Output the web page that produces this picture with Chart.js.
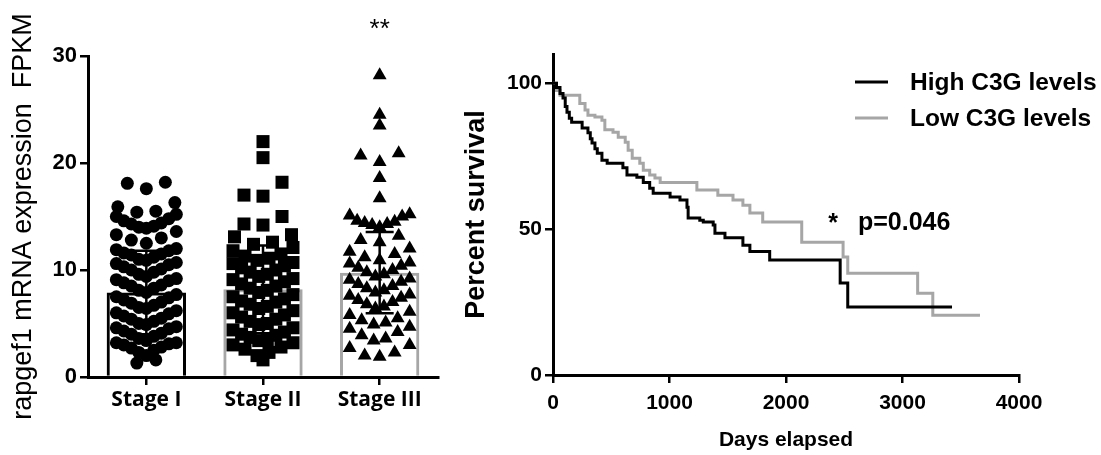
<!DOCTYPE html>
<html>
<head>
<meta charset="utf-8">
<script src="https://cdn.jsdelivr.net/npm/chart.js@4.4.1/dist/chart.umd.min.js"></script>
<style>
  html, body { margin: 0; padding: 0; background: #fff; }
  #wrap { position: relative; width: 1101px; height: 455px; }
  #stageChart { position: absolute; left: 0; top: 0; }
  #survivalChart { position: absolute; left: 450px; top: 0; }
</style>
</head>
<body>
<div id="wrap">
  <canvas id="stageChart" width="450" height="455"></canvas>
  <canvas id="survivalChart" width="651" height="455"></canvas>
</div>
<script>
// rapgef1 expression (FPKM) per tumour stage
const stages = ['Stage I', 'Stage II', 'Stage III'];
const stageI = [
  1.3, 1.6,
  2.0, 2.3, 2.5, 2.7, 2.8, 3.0, 3.1, 3.2, 3.2,
  3.4, 3.6, 3.8, 4.0, 4.1, 4.3, 4.5, 4.6, 4.7,
  4.9, 5.0, 5.2, 5.4, 5.5, 5.7, 5.9, 6.0, 6.2,
  6.4, 6.5, 6.7, 6.9, 7.0, 7.2, 7.4, 7.5, 7.7,
  7.9, 8.1, 8.3, 8.5, 8.6, 8.8, 9.0, 9.1, 9.2,
  9.4, 9.6, 9.8, 10.0, 10.1, 10.3, 10.5, 10.6, 10.7,
  10.9, 11.0, 11.2, 11.4, 11.5, 11.6, 11.8, 11.9, 12.0,
  12.5, 12.8, 13.0, 13.3, 13.6,
  13.9, 14.0, 14.1, 14.3, 14.4, 14.6, 14.8, 15.0, 15.2,
  15.4, 15.5, 15.9, 16.3,
  17.6, 18.1, 18.2
];
const stageII = [
  1.6,
  2.0, 2.3, 2.6, 2.8, 3.0, 3.2,
  3.4, 3.5, 3.7, 3.9, 4.0, 4.2, 4.4, 4.6,
  4.9, 5.0, 5.2, 5.4, 5.6, 5.8, 6.0, 6.2,
  6.4, 6.6, 6.8, 7.0, 7.1, 7.3, 7.5, 7.7,
  7.9, 8.1, 8.3, 8.5, 8.7, 8.9, 9.1, 9.2,
  9.4, 9.6, 9.8, 10.0, 10.2, 10.4, 10.6, 10.7,
  10.9, 11.1, 11.3, 11.5, 11.8, 12.1,
  12.4, 12.6, 13.1, 13.3,
  14.2, 14.3, 15.0,
  16.9, 17.0, 18.2,
  20.5, 22.0
];
const stageIII = [
  1.9, 2.0, 2.3, 2.7, 3.0,
  3.4, 3.6, 3.9, 4.2, 4.5, 4.7,
  4.9, 5.1, 5.3, 5.5, 5.8, 6.1,
  6.4, 6.6, 6.8, 7.0, 7.2, 7.4, 7.6, 7.7,
  7.9, 8.1, 8.3, 8.5, 8.7, 8.9, 9.1, 9.2,
  9.4, 9.6, 9.8, 10.0, 10.2, 10.4, 10.6, 10.7,
  10.9, 11.2, 11.5, 11.7, 12.0,
  12.6, 12.8, 13.2,
  14.0, 14.2, 14.3, 14.4, 14.5, 14.6, 15.0, 15.1, 15.2,
  16.7, 18.6,
  20.1, 20.7, 20.9,
  23.5, 24.5, 28.2
];
const stageMeans = [7.9, 8.2, 9.75];
const stageSD = [3.9, 4.1, 3.8];

// Kaplan-Meier survival (%) against days elapsed
const highDays = [0, 30, 60, 86, 105, 120, 140, 160, 250, 300, 320, 335, 360, 380, 420, 465, 600, 635, 720, 775, 830, 860, 1005, 1090, 1150, 1160, 1260, 1290, 1375, 1390, 1476, 1630, 1690, 1860, 2465, 2530, 3425];
const highSurvival = [100, 98.5, 96.5, 94.9, 92, 90, 88, 86.6, 84.6, 83, 81, 79.5, 77.5, 76, 73.6, 72.6, 71, 68.5, 67.8, 66, 64, 62.3, 61, 60, 57.5, 53.8, 53, 52.4, 51.4, 48.6, 47, 44.5, 42.3, 39.4, 31.5, 23.3, 23.3];
const lowDays = [0, 30, 60, 230, 275, 300, 360, 420, 445, 515, 560, 620, 645, 680, 745, 775, 830, 875, 920, 1235, 1415, 1545, 1630, 1690, 1800, 2135, 2490, 2530, 3130, 3260, 3665];
const lowSurvival = [100, 97.5, 95.9, 93, 90.8, 89, 88.4, 87.3, 84, 83.2, 81.5, 79.8, 77, 74.3, 72.6, 70.2, 68.5, 67.5, 66, 63.4, 61.6, 60, 58.2, 55.5, 52.4, 45.5, 40.4, 34.9, 28, 20.5, 20.5];

const black = '#000';
const grey = '#a6a6a6';
const arial = "'Liberation Sans', Arial, sans-serif";

Chart.defaults.font.family = arial;
Chart.defaults.color = black;
Chart.defaults.animation = false;

// column scatter: points grouped into value bins, lowest values in the middle of each row
const BIN_START = 0.3;
const BIN_SIZE = 1.5;
const SPREAD = 0.163;   // gap between neighbours in a sparse row (category units)
const HALF_ROW = 0.257; // widest a row may go either side of centre

function columnScatter(values, center) {
  const bins = {};
  values.forEach(v => {
    const k = Math.floor((v - BIN_START) / BIN_SIZE + 1e-9);
    (bins[k] = bins[k] || []).push(v);
  });
  const points = [];
  Object.values(bins).forEach(row => {
    row.sort((a, b) => a - b);
    const n = row.length;
    const step = n > 1 ? Math.min(SPREAD, 2 * HALF_ROW / (n - 1)) : 0;
    const slots = [];
    for (let k = 0; k < n; k++) slots.push((k - (n - 1) / 2) * step);
    slots.sort((a, b) => Math.abs(a) - Math.abs(b) || a - b);
    row.forEach((v, i) => points.push({ x: center + slots[i], y: v }));
  });
  return points;
}

const axisLine = { display: true, color: black, width: 3 };
const tickMarks = { drawOnChartArea: false, drawTicks: true, tickLength: 8, color: black, lineWidth: 2.5, offset: false };

// mean ± SD whiskers, bold value labels on the y axis and the significance mark
const errorBars = {
  id: 'errorBars',
  afterDatasetsDraw(chart) {
    const { ctx, scales: { x, y } } = chart;
    ctx.save();
    ctx.strokeStyle = black;
    ctx.lineWidth = 2.5;
    stageMeans.forEach((m, i) => {
      const cx = x.getPixelForValue(i);
      const top = y.getPixelForValue(m + stageSD[i]);
      const bottom = y.getPixelForValue(m - stageSD[i]);
      ctx.beginPath();
      ctx.moveTo(cx, top);
      ctx.lineTo(cx, bottom);
      ctx.moveTo(cx - 14, top);
      ctx.lineTo(cx + 14, top);
      ctx.moveTo(cx - 14, bottom);
      ctx.lineTo(cx + 14, bottom);
      ctx.stroke();
    });
    ctx.fillStyle = black;
    ctx.font = 'bold 22px ' + arial;
    ctx.textAlign = 'right';
    ctx.textBaseline = 'middle';
    y.ticks.forEach(t => {
      ctx.fillText(String(t.value), y.right - 11, y.getPixelForValue(t.value));
    });
    ctx.font = '26px ' + arial;
    ctx.textAlign = 'center';
    ctx.textBaseline = 'alphabetic';
    ctx.fillText('**', x.getPixelForValue(2), 37);
    ctx.restore();
  }
};

const pointDefaults = { type: 'scatter', xAxisID: 'xs', backgroundColor: black, borderColor: black, borderWidth: 0, clip: false };

new Chart(document.getElementById('stageChart'), {
  type: 'bar',
  data: {
    labels: stages,
    datasets: [
      { ...pointDefaults, data: columnScatter(stageI, 0), pointStyle: 'circle', pointRadius: 6.5 },
      { ...pointDefaults, data: columnScatter(stageII, 1), pointStyle: 'rect', pointRadius: 9.2 },
      { ...pointDefaults, data: columnScatter(stageIII, 2), pointStyle: 'triangle', pointRadius: 8 },
      {
        type: 'bar',
        data: stageMeans,
        xAxisID: 'x',
        grouped: false,
        backgroundColor: 'rgba(255,255,255,0)',
        borderColor: [black, grey, grey],
        borderWidth: 3,
        barPercentage: 0.68,
        categoryPercentage: 1,
      },
    ],
  },
  options: {
    responsive: false,
    devicePixelRatio: 1,
    layout: { padding: { top: 56, right: 12, left: 0, bottom: 0 } },
    plugins: { legend: { display: false }, tooltip: { enabled: false } },
    scales: {
      x: {
        offset: true,
        grid: tickMarks,
        border: axisLine,
        ticks: { color: black, padding: 2, font: { family: "'Open Sans', sans-serif", size: 21, weight: 700 } },
        afterFit: scale => { scale.height = 78; },
      },
      xs: { type: 'linear', min: -0.5, max: 2.5, offset: false, display: false },
      y: {
        min: 0,
        max: 30,
        grid: tickMarks,
        border: axisLine,
        ticks: { stepSize: 10, padding: 3, color: 'rgba(0,0,0,0)', font: { family: arial, size: 22, weight: 700 } },
        title: {
          display: true,
          text: 'rapgef1 mRNA expression  FPKM',
          color: black,
          padding: { top: 7, bottom: 0 },
          font: { family: arial, size: 27 },
        },
        afterFit: scale => { scale.width = 88; },
      },
    },
  },
  plugins: [errorBars],
});

const survivalLegend = {
  id: 'survivalLegend',
  afterDraw(chart) {
    const { ctx } = chart;
    ctx.save();
    ctx.font = 'bold 24.5px ' + arial;
    ctx.textAlign = 'left';
    ctx.textBaseline = 'alphabetic';
    chart.data.datasets.forEach((ds, i) => {
      const y = 82 + i * 36;
      ctx.strokeStyle = ds.borderColor;
      ctx.lineWidth = 3;
      ctx.beginPath();
      ctx.moveTo(405, y);
      ctx.lineTo(438, y);
      ctx.stroke();
      ctx.fillStyle = black;
      ctx.fillText(ds.label, 460, y + 8);
    });
    ctx.font = 'bold 25px ' + arial;
    ctx.textAlign = 'center';
    ctx.fillText('*', 383, 231);
    ctx.textAlign = 'left';
    ctx.fillText('p=0.046', 408, 230);
    ctx.restore();
  }
};

const stepLine = { stepped: true, borderWidth: 3, pointRadius: 0, fill: false, borderJoinStyle: 'miter', borderCapStyle: 'butt' };

new Chart(document.getElementById('survivalChart'), {
  type: 'line',
  data: {
    datasets: [
      { ...stepLine, label: 'High C3G levels', borderColor: black, data: highDays.map((d, i) => ({ x: d, y: highSurvival[i] })) },
      { ...stepLine, label: 'Low C3G levels', borderColor: grey, data: lowDays.map((d, i) => ({ x: d, y: lowSurvival[i] })) },
    ],
  },
  options: {
    responsive: false,
    devicePixelRatio: 1,
    layout: { padding: { top: 54, right: 82, left: 0, bottom: 0 } },
    plugins: { legend: { display: false }, tooltip: { enabled: false } },
    scales: {
      x: {
        type: 'linear',
        min: 0,
        max: 4000,
        grid: tickMarks,
        border: axisLine,
        ticks: { stepSize: 1000, padding: 8, color: black, font: { family: arial, size: 21, weight: 700 }, format: { useGrouping: false } },
        title: {
          display: true,
          text: 'Days elapsed',
          color: black,
          padding: { top: 0, bottom: 2 },
          font: { family: arial, size: 21, weight: 700 },
        },
        afterFit: scale => { scale.height = 80; },
      },
      y: {
        min: 0,
        max: 110,
        grid: tickMarks,
        border: axisLine,
        ticks: { stepSize: 50, includeBounds: false, padding: 3, color: black, font: { family: arial, size: 21, weight: 700 } },
        title: {
          display: true,
          text: 'Percent survival',
          color: black,
          padding: { top: 10, bottom: 0 },
          font: { family: arial, size: 27, weight: 700 },
        },
        afterFit: scale => { scale.width = 103; },
      },
    },
  },
  plugins: [survivalLegend],
});
</script>
</body>
</html>
